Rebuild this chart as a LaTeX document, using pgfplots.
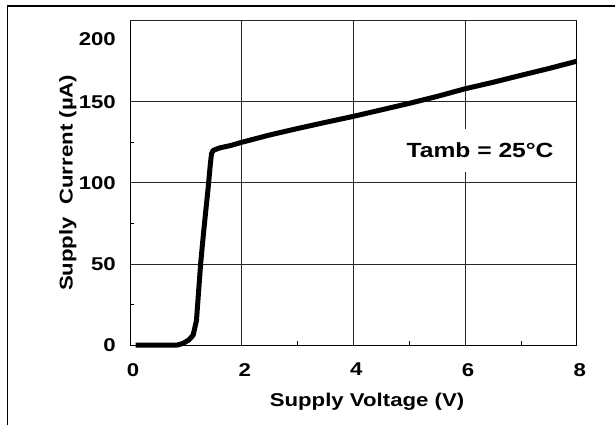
\documentclass[border=0pt]{standalone}
\usepackage{pgfplots}
\pgfplotsset{compat=1.18}
\usepackage{fontspec}
\setmainfont{Liberation Sans}[FakeStretch=1.2]
\begin{document}
\begin{tikzpicture}
\useasboundingbox (-130pt,-80pt) rectangle (485pt,345pt);
\draw[line width=1.7pt] (-122.5pt,-95pt) -- (-122.5pt,339pt) -- (495pt,339pt);
\begin{axis}[
  scale only axis, width=446.7pt, height=324.3pt,
  xmin=0, xmax=8, ymin=0, ymax=200,
  xtick={0,2,4,6,8}, ytick={0,50,100,150},
  extra y ticks={200},
  extra y tick style={yticklabel style={yshift=-18.6pt}},
  minor x tick num=1, minor y tick num=1,
  xtick pos=left, ytick pos=left,
  tick align=inside, major tick length=0pt, minor tick length=4pt,
  grid=major,
  major grid style={black!85, line width=0.7pt},
  axis line style={black, line width=1pt},
  every tick/.style={black, line width=0.7pt},
  /pgf/number format/assume math mode=true,
  tick label style={font=\fontsize{18.5}{22}\selectfont\bfseries},
  label style={font=\fontsize{18.5}{22}\selectfont\bfseries},
  xticklabel style={anchor=north, inner sep=0pt, yshift=-18pt, xshift=3pt},
  yticklabel style={anchor=east, inner sep=0pt, xshift=-14pt},
  xlabel={Supply Voltage (V)},
  ylabel={Supply\ \ Current (µA)},
  xlabel style={at={(axis description cs:0.5306,0)}, anchor=base, yshift=-61.7pt},
  ylabel style={at={(axis description cs:-0.1283,0.5)}, anchor=base},
  clip=false,
]
\addplot[black, line width=5pt, line join=round] coordinates {
(0.1,0)(0.3,0)(0.5,0)(0.7,0)(0.85,0)(0.95,1)(1.05,3)(1.13,6)(1.19,15)
(1.235,36)(1.265,50)(1.30,63)(1.34,77)(1.40,97)(1.44,112)(1.46,118)(1.49,120)
(1.6,121.5)(1.8,123)(2,125)(2.5,129.5)(3,133.5)(3.5,137.3)(4,141)(4.5,145)
(5,149)(5.5,153.3)(6,158)(6.5,162)(7,166.3)(7.5,170.5)(8,175)
};
\node[fill=white, inner xsep=4pt, inner ysep=14pt, anchor=base,
  font=\fontsize{20.5}{24}\selectfont\bfseries] at (axis cs:6.27,115.6) {Tamb = 25°C};
\end{axis}
\end{tikzpicture}
\end{document}
